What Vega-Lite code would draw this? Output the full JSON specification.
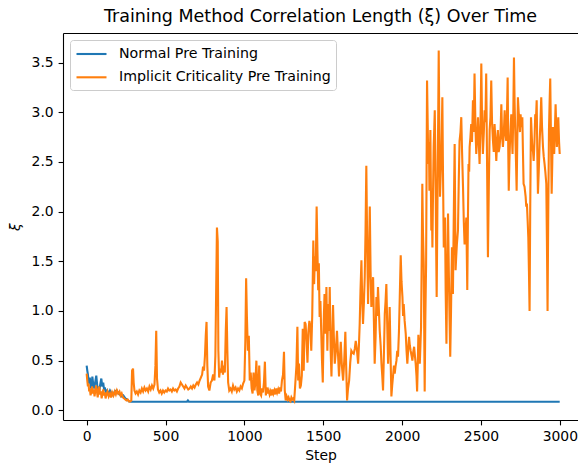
{
  "$schema": "https://vega.github.io/schema/vega-lite/v6.json",
  "autosize": {"type": "none"},
  "width": 515,
  "height": 387,
  "padding": {"left": 63, "top": 33, "right": 0, "bottom": 45},
  "background": "white",
  "title": {"text": "Training Method Correlation Length (ξ) Over Time", "font": "DejaVu Sans", "fontSize": 17.5, "fontWeight": "normal", "color": "black", "anchor": "middle", "offset": 8},
  "config": {
    "view": {"stroke": null},
    "axis": {"domainColor": "black", "domainWidth": 1.1, "tickColor": "black", "tickWidth": 1.1, "tickSize": 4.9, "labelPadding": 4.9, "labelFont": "DejaVu Sans", "labelFontSize": 13.9, "labelColor": "black", "titleFont": "DejaVu Sans", "titleFontSize": 13.9, "titleFontWeight": "normal", "titleColor": "black", "grid": false},
    "legend": {"orient": "top-left", "offset": 7, "padding": 5, "fillColor": "rgba(255,255,255,0.8)", "strokeColor": "#cccccc", "cornerRadius": 3, "symbolType": "M-1,0H3", "symbolSize": 225, "symbolStrokeWidth": 2.1, "symbolFillColor": "transparent", "labelFont": "DejaVu Sans", "labelFontSize": 14.2, "labelColor": "black", "labelOffset": 26, "labelLimit": 0, "rowPadding": 6.3}
  },
  "layer": [
    {
      "data": {"values": [
        {"step":0,"xi":0.45,"series":"Normal Pre Training"},{"step":4,"xi":0.40,"series":"Normal Pre Training"},{"step":8,"xi":0.36,"series":"Normal Pre Training"},{"step":12,"xi":0.30,"series":"Normal Pre Training"},{"step":16,"xi":0.27,"series":"Normal Pre Training"},{"step":20,"xi":0.33,"series":"Normal Pre Training"},{"step":25,"xi":0.24,"series":"Normal Pre Training"},{"step":30,"xi":0.22,"series":"Normal Pre Training"},{"step":36,"xi":0.34,"series":"Normal Pre Training"},{"step":42,"xi":0.26,"series":"Normal Pre Training"},{"step":48,"xi":0.22,"series":"Normal Pre Training"},{"step":54,"xi":0.28,"series":"Normal Pre Training"},{"step":61,"xi":0.35,"series":"Normal Pre Training"},{"step":67,"xi":0.25,"series":"Normal Pre Training"},{"step":73,"xi":0.22,"series":"Normal Pre Training"},{"step":80,"xi":0.20,"series":"Normal Pre Training"},{"step":86,"xi":0.26,"series":"Normal Pre Training"},{"step":93,"xi":0.32,"series":"Normal Pre Training"},{"step":99,"xi":0.24,"series":"Normal Pre Training"},{"step":105,"xi":0.28,"series":"Normal Pre Training"},{"step":111,"xi":0.20,"series":"Normal Pre Training"},{"step":115,"xi":0.23,"series":"Normal Pre Training"},{"step":122,"xi":0.18,"series":"Normal Pre Training"},{"step":130,"xi":0.20,"series":"Normal Pre Training"},{"step":138,"xi":0.16,"series":"Normal Pre Training"},{"step":148,"xi":0.20,"series":"Normal Pre Training"},{"step":158,"xi":0.17,"series":"Normal Pre Training"},{"step":168,"xi":0.15,"series":"Normal Pre Training"},{"step":178,"xi":0.19,"series":"Normal Pre Training"},{"step":190,"xi":0.20,"series":"Normal Pre Training"},{"step":200,"xi":0.17,"series":"Normal Pre Training"},{"step":210,"xi":0.16,"series":"Normal Pre Training"},{"step":220,"xi":0.14,"series":"Normal Pre Training"},{"step":232,"xi":0.15,"series":"Normal Pre Training"},{"step":245,"xi":0.12,"series":"Normal Pre Training"},{"step":255,"xi":0.11,"series":"Normal Pre Training"},{"step":262,"xi":0.10,"series":"Normal Pre Training"},{"step":270,"xi":0.09,"series":"Normal Pre Training"},{"step":283,"xi":0.087,"series":"Normal Pre Training"},{"step":400,"xi":0.087,"series":"Normal Pre Training"},{"step":636,"xi":0.087,"series":"Normal Pre Training"},{"step":642,"xi":0.10,"series":"Normal Pre Training"},{"step":648,"xi":0.087,"series":"Normal Pre Training"},{"step":1000,"xi":0.087,"series":"Normal Pre Training"},{"step":2000,"xi":0.087,"series":"Normal Pre Training"},{"step":2999,"xi":0.087,"series":"Normal Pre Training"}
      ]},
      "mark": {"type": "line", "strokeWidth": 2.1, "clip": true},
      "encoding": {
        "x": {"field": "step", "type": "quantitative", "scale": {"domain": [-150, 3115], "nice": false, "zero": false}, "axis": {"values": [0,500,1000,1500,2000,2500,3000], "format": "d", "title": "Step", "titlePadding": 5, "labelFlush": false, "labelOverlap": false}},
        "y": {"field": "xi", "type": "quantitative", "scale": {"domain": [-0.097, 3.797], "nice": false, "zero": false}, "axis": {"values": [0,0.5,1,1.5,2,2.5,3,3.5], "format": ".1f", "title": "ξ", "titleFontStyle": "italic", "titlePadding": 9, "labelFlush": false, "labelOverlap": false}},
        "color": {"field": "series", "type": "nominal", "scale": {"domain": ["Normal Pre Training", "Implicit Criticality Pre Training"], "range": ["#1f77b4", "#ff7f0e"]}, "legend": {"title": null}}
      }
    },
    {
      "data": {"values": [
        {"step":0,"xi":0.37},{"step":4,"xi":0.30},{"step":8,"xi":0.24},{"step":12,"xi":0.27},{"step":16,"xi":0.19},{"step":20,"xi":0.22},{"step":25,"xi":0.15},{"step":30,"xi":0.20},{"step":35,"xi":0.24},{"step":40,"xi":0.17},{"step":45,"xi":0.21},{"step":50,"xi":0.14},{"step":55,"xi":0.20},{"step":60,"xi":0.25},{"step":65,"xi":0.19},{"step":70,"xi":0.13},{"step":75,"xi":0.20},{"step":80,"xi":0.24},{"step":85,"xi":0.16},{"step":90,"xi":0.19},{"step":95,"xi":0.12},{"step":100,"xi":0.17},{"step":105,"xi":0.21},{"step":110,"xi":0.15},{"step":115,"xi":0.18},{"step":120,"xi":0.12},{"step":125,"xi":0.16},{"step":132,"xi":0.19},{"step":140,"xi":0.14},{"step":148,"xi":0.17},{"step":155,"xi":0.13},{"step":162,"xi":0.18},{"step":170,"xi":0.15},{"step":178,"xi":0.19},{"step":185,"xi":0.16},{"step":192,"xi":0.20},{"step":200,"xi":0.17},{"step":208,"xi":0.19},{"step":215,"xi":0.15},{"step":222,"xi":0.17},{"step":230,"xi":0.13},{"step":238,"xi":0.12},{"step":245,"xi":0.11},{"step":252,"xi":0.10},{"step":260,"xi":0.11},{"step":268,"xi":0.09},{"step":276,"xi":0.09},{"step":283,"xi":0.10},{"step":288,"xi":0.40},{"step":294,"xi":0.42},{"step":298,"xi":0.28},{"step":303,"xi":0.20},{"step":310,"xi":0.17},{"step":318,"xi":0.19},{"step":326,"xi":0.16},{"step":334,"xi":0.20},{"step":342,"xi":0.18},{"step":350,"xi":0.22},{"step":358,"xi":0.19},{"step":366,"xi":0.23},{"step":374,"xi":0.20},{"step":382,"xi":0.22},{"step":390,"xi":0.19},{"step":398,"xi":0.24},{"step":406,"xi":0.21},{"step":414,"xi":0.25},{"step":422,"xi":0.22},{"step":430,"xi":0.26},{"step":436,"xi":0.45},{"step":441,"xi":0.80},{"step":446,"xi":0.32},{"step":452,"xi":0.21},{"step":460,"xi":0.18},{"step":468,"xi":0.20},{"step":476,"xi":0.17},{"step":484,"xi":0.20},{"step":492,"xi":0.18},{"step":500,"xi":0.20},{"step":508,"xi":0.19},{"step":516,"xi":0.22},{"step":524,"xi":0.20},{"step":532,"xi":0.21},{"step":540,"xi":0.19},{"step":548,"xi":0.22},{"step":556,"xi":0.20},{"step":564,"xi":0.21},{"step":572,"xi":0.19},{"step":580,"xi":0.22},{"step":588,"xi":0.24},{"step":596,"xi":0.28},{"step":604,"xi":0.26},{"step":612,"xi":0.24},{"step":620,"xi":0.22},{"step":628,"xi":0.25},{"step":636,"xi":0.23},{"step":644,"xi":0.21},{"step":652,"xi":0.22},{"step":660,"xi":0.24},{"step":668,"xi":0.22},{"step":676,"xi":0.25},{"step":684,"xi":0.23},{"step":692,"xi":0.26},{"step":700,"xi":0.28},{"step":708,"xi":0.26},{"step":716,"xi":0.30},{"step":724,"xi":0.33},{"step":732,"xi":0.36},{"step":738,"xi":0.44},{"step":744,"xi":0.40},{"step":750,"xi":0.55},{"step":755,"xi":0.75},{"step":760,"xi":0.89},{"step":765,"xi":0.45},{"step":770,"xi":0.24},{"step":778,"xi":0.20},{"step":786,"xi":0.28},{"step":794,"xi":0.30},{"step":802,"xi":0.36},{"step":810,"xi":0.30},{"step":816,"xi":0.55},{"step":821,"xi":1.20},{"step":826,"xi":1.84},{"step":831,"xi":1.70},{"step":835,"xi":0.60},{"step":840,"xi":0.33},{"step":846,"xi":0.42},{"step":852,"xi":0.38},{"step":858,"xi":0.50},{"step":864,"xi":0.36},{"step":870,"xi":0.45},{"step":876,"xi":0.38},{"step":882,"xi":0.80},{"step":887,"xi":1.04},{"step":892,"xi":0.60},{"step":897,"xi":0.28},{"step":904,"xi":0.20},{"step":912,"xi":0.22},{"step":920,"xi":0.19},{"step":928,"xi":0.25},{"step":936,"xi":0.21},{"step":944,"xi":0.23},{"step":952,"xi":0.19},{"step":960,"xi":0.22},{"step":968,"xi":0.20},{"step":976,"xi":0.24},{"step":984,"xi":0.22},{"step":992,"xi":0.27},{"step":1000,"xi":0.30},{"step":1006,"xi":0.70},{"step":1011,"xi":1.33},{"step":1016,"xi":0.94},{"step":1022,"xi":0.60},{"step":1028,"xi":0.75},{"step":1034,"xi":0.30},{"step":1040,"xi":0.38},{"step":1046,"xi":0.22},{"step":1052,"xi":0.17},{"step":1058,"xi":0.38},{"step":1064,"xi":0.20},{"step":1070,"xi":0.28},{"step":1076,"xi":0.50},{"step":1082,"xi":0.20},{"step":1088,"xi":0.15},{"step":1094,"xi":0.45},{"step":1100,"xi":0.17},{"step":1106,"xi":0.15},{"step":1112,"xi":0.22},{"step":1118,"xi":0.18},{"step":1124,"xi":0.28},{"step":1130,"xi":0.49},{"step":1136,"xi":0.15},{"step":1142,"xi":0.23},{"step":1148,"xi":0.17},{"step":1154,"xi":0.20},{"step":1160,"xi":0.16},{"step":1166,"xi":0.19},{"step":1172,"xi":0.15},{"step":1178,"xi":0.21},{"step":1184,"xi":0.17},{"step":1190,"xi":0.20},{"step":1196,"xi":0.16},{"step":1202,"xi":0.22},{"step":1208,"xi":0.18},{"step":1214,"xi":0.21},{"step":1220,"xi":0.17},{"step":1226,"xi":0.23},{"step":1232,"xi":0.19},{"step":1238,"xi":0.30},{"step":1245,"xi":0.36},{"step":1251,"xi":0.59},{"step":1256,"xi":0.20},{"step":1262,"xi":0.10},{"step":1268,"xi":0.14},{"step":1274,"xi":0.11},{"step":1280,"xi":0.13},{"step":1286,"xi":0.10},{"step":1292,"xi":0.09},{"step":1298,"xi":0.13},{"step":1304,"xi":0.11},{"step":1310,"xi":0.12},{"step":1316,"xi":0.10},{"step":1322,"xi":0.25},{"step":1330,"xi":0.45},{"step":1336,"xi":0.84},{"step":1341,"xi":0.30},{"step":1346,"xi":0.47},{"step":1352,"xi":0.22},{"step":1358,"xi":0.25},{"step":1364,"xi":0.35},{"step":1370,"xi":0.82},{"step":1376,"xi":0.40},{"step":1382,"xi":0.89},{"step":1388,"xi":0.87},{"step":1394,"xi":0.70},{"step":1400,"xi":0.48},{"step":1406,"xi":0.80},{"step":1412,"xi":0.90},{"step":1418,"xi":0.85},{"step":1424,"xi":0.60},{"step":1430,"xi":0.95},{"step":1437,"xi":1.71},{"step":1442,"xi":1.27},{"step":1447,"xi":1.55},{"step":1452,"xi":1.40},{"step":1458,"xi":2.05},{"step":1463,"xi":1.61},{"step":1468,"xi":1.21},{"step":1472,"xi":1.48},{"step":1477,"xi":0.94},{"step":1482,"xi":1.10},{"step":1487,"xi":0.80},{"step":1492,"xi":0.50},{"step":1497,"xi":0.28},{"step":1503,"xi":0.90},{"step":1508,"xi":1.17},{"step":1514,"xi":0.77},{"step":1520,"xi":1.24},{"step":1526,"xi":0.60},{"step":1532,"xi":1.07},{"step":1537,"xi":0.80},{"step":1541,"xi":1.24},{"step":1547,"xi":0.60},{"step":1552,"xi":0.34},{"step":1557,"xi":0.70},{"step":1562,"xi":1.06},{"step":1567,"xi":0.75},{"step":1573,"xi":0.47},{"step":1580,"xi":0.60},{"step":1587,"xi":0.80},{"step":1594,"xi":0.55},{"step":1600,"xi":0.34},{"step":1606,"xi":0.55},{"step":1611,"xi":0.69},{"step":1618,"xi":0.45},{"step":1626,"xi":0.30},{"step":1633,"xi":0.50},{"step":1640,"xi":0.79},{"step":1646,"xi":0.40},{"step":1651,"xi":0.10},{"step":1657,"xi":0.22},{"step":1664,"xi":0.30},{"step":1671,"xi":0.48},{"step":1678,"xi":0.60},{"step":1685,"xi":0.58},{"step":1693,"xi":0.57},{"step":1700,"xi":0.62},{"step":1706,"xi":0.70},{"step":1714,"xi":0.60},{"step":1721,"xi":0.47},{"step":1726,"xi":0.65},{"step":1731,"xi":0.87},{"step":1736,"xi":1.20},{"step":1742,"xi":1.51},{"step":1747,"xi":1.10},{"step":1752,"xi":0.87},{"step":1758,"xi":1.10},{"step":1763,"xi":1.34},{"step":1768,"xi":1.80},{"step":1773,"xi":2.46},{"step":1779,"xi":1.60},{"step":1784,"xi":1.07},{"step":1790,"xi":1.55},{"step":1795,"xi":2.05},{"step":1800,"xi":1.40},{"step":1805,"xi":1.04},{"step":1810,"xi":1.20},{"step":1816,"xi":1.34},{"step":1821,"xi":0.90},{"step":1826,"xi":0.47},{"step":1832,"xi":0.75},{"step":1837,"xi":1.14},{"step":1842,"xi":0.95},{"step":1847,"xi":1.24},{"step":1853,"xi":1.00},{"step":1858,"xi":0.80},{"step":1864,"xi":0.65},{"step":1869,"xi":0.47},{"step":1874,"xi":0.35},{"step":1879,"xi":0.20},{"step":1885,"xi":0.60},{"step":1890,"xi":0.97},{"step":1895,"xi":1.10},{"step":1900,"xi":1.27},{"step":1905,"xi":0.90},{"step":1911,"xi":0.47},{"step":1916,"xi":0.70},{"step":1921,"xi":1.04},{"step":1926,"xi":0.60},{"step":1932,"xi":0.14},{"step":1937,"xi":0.25},{"step":1942,"xi":0.34},{"step":1948,"xi":0.45},{"step":1953,"xi":0.37},{"step":1958,"xi":0.44},{"step":1964,"xi":0.50},{"step":1969,"xi":0.60},{"step":1974,"xi":0.54},{"step":1980,"xi":0.80},{"step":1985,"xi":1.14},{"step":1991,"xi":1.56},{"step":1996,"xi":1.30},{"step":2002,"xi":1.14},{"step":2006,"xi":0.95},{"step":2010,"xi":1.07},{"step":2016,"xi":0.90},{"step":2023,"xi":0.77},{"step":2028,"xi":0.60},{"step":2033,"xi":0.47},{"step":2038,"xi":0.60},{"step":2044,"xi":0.74},{"step":2049,"xi":0.65},{"step":2054,"xi":0.60},{"step":2060,"xi":0.55},{"step":2065,"xi":0.50},{"step":2070,"xi":0.58},{"step":2076,"xi":0.64},{"step":2081,"xi":0.55},{"step":2086,"xi":0.47},{"step":2091,"xi":0.35},{"step":2095,"xi":0.19},{"step":2099,"xi":0.45},{"step":2103,"xi":0.76},{"step":2108,"xi":0.60},{"step":2112,"xi":0.47},{"step":2116,"xi":0.65},{"step":2120,"xi":0.84},{"step":2124,"xi":1.50},{"step":2128,"xi":2.28},{"step":2132,"xi":1.80},{"step":2137,"xi":1.47},{"step":2140,"xi":0.80},{"step":2143,"xi":0.19},{"step":2147,"xi":0.90},{"step":2152,"xi":1.47},{"step":2155,"xi":2.40},{"step":2158,"xi":3.32},{"step":2162,"xi":2.90},{"step":2166,"xi":2.48},{"step":2170,"xi":2.70},{"step":2173,"xi":2.21},{"step":2176,"xi":2.50},{"step":2179,"xi":2.82},{"step":2182,"xi":2.30},{"step":2185,"xi":1.81},{"step":2189,"xi":2.00},{"step":2192,"xi":1.64},{"step":2196,"xi":2.20},{"step":2200,"xi":2.65},{"step":2204,"xi":2.85},{"step":2207,"xi":3.02},{"step":2210,"xi":2.60},{"step":2213,"xi":2.15},{"step":2216,"xi":1.60},{"step":2219,"xi":1.14},{"step":2223,"xi":1.90},{"step":2226,"xi":2.48},{"step":2229,"xi":3.00},{"step":2232,"xi":3.62},{"step":2236,"xi":2.80},{"step":2240,"xi":2.15},{"step":2245,"xi":2.40},{"step":2249,"xi":2.55},{"step":2252,"xi":2.85},{"step":2255,"xi":3.15},{"step":2259,"xi":2.40},{"step":2264,"xi":1.64},{"step":2268,"xi":1.90},{"step":2272,"xi":1.94},{"step":2276,"xi":1.20},{"step":2281,"xi":0.67},{"step":2286,"xi":1.40},{"step":2291,"xi":1.98},{"step":2296,"xi":1.40},{"step":2301,"xi":0.90},{"step":2305,"xi":0.54},{"step":2310,"xi":1.00},{"step":2316,"xi":1.64},{"step":2322,"xi":1.17},{"step":2327,"xi":1.90},{"step":2333,"xi":2.68},{"step":2339,"xi":1.41},{"step":2343,"xi":1.55},{"step":2347,"xi":1.67},{"step":2351,"xi":1.75},{"step":2354,"xi":1.81},{"step":2359,"xi":2.30},{"step":2364,"xi":2.71},{"step":2370,"xi":2.80},{"step":2375,"xi":2.95},{"step":2380,"xi":2.60},{"step":2386,"xi":2.25},{"step":2391,"xi":1.90},{"step":2396,"xi":1.67},{"step":2402,"xi":1.80},{"step":2407,"xi":1.94},{"step":2413,"xi":1.21},{"step":2417,"xi":1.90},{"step":2421,"xi":2.48},{"step":2425,"xi":2.40},{"step":2428,"xi":2.65},{"step":2433,"xi":2.75},{"step":2438,"xi":2.88},{"step":2443,"xi":2.70},{"step":2449,"xi":3.12},{"step":2454,"xi":2.80},{"step":2459,"xi":3.39},{"step":2465,"xi":2.85},{"step":2470,"xi":2.58},{"step":2476,"xi":2.75},{"step":2481,"xi":2.95},{"step":2486,"xi":2.70},{"step":2491,"xi":2.48},{"step":2497,"xi":2.90},{"step":2502,"xi":3.49},{"step":2507,"xi":2.90},{"step":2512,"xi":2.58},{"step":2518,"xi":2.80},{"step":2523,"xi":3.02},{"step":2528,"xi":2.90},{"step":2533,"xi":3.39},{"step":2539,"xi":2.40},{"step":2544,"xi":1.54},{"step":2550,"xi":2.30},{"step":2555,"xi":2.82},{"step":2560,"xi":2.95},{"step":2565,"xi":3.32},{"step":2570,"xi":2.90},{"step":2576,"xi":2.71},{"step":2581,"xi":2.60},{"step":2586,"xi":2.88},{"step":2592,"xi":2.70},{"step":2597,"xi":2.51},{"step":2602,"xi":2.70},{"step":2607,"xi":2.82},{"step":2612,"xi":2.60},{"step":2618,"xi":2.65},{"step":2624,"xi":2.80},{"step":2629,"xi":3.08},{"step":2634,"xi":2.75},{"step":2639,"xi":2.65},{"step":2645,"xi":2.80},{"step":2650,"xi":3.02},{"step":2655,"xi":2.80},{"step":2660,"xi":2.71},{"step":2665,"xi":3.00},{"step":2669,"xi":3.35},{"step":2673,"xi":2.60},{"step":2676,"xi":2.21},{"step":2680,"xi":2.50},{"step":2684,"xi":2.71},{"step":2688,"xi":2.85},{"step":2692,"xi":2.98},{"step":2696,"xi":2.75},{"step":2700,"xi":2.58},{"step":2705,"xi":3.00},{"step":2709,"xi":3.55},{"step":2713,"xi":3.10},{"step":2717,"xi":2.82},{"step":2722,"xi":2.50},{"step":2726,"xi":2.21},{"step":2730,"xi":2.70},{"step":2734,"xi":3.15},{"step":2739,"xi":3.00},{"step":2743,"xi":2.92},{"step":2747,"xi":2.80},{"step":2751,"xi":2.98},{"step":2756,"xi":2.85},{"step":2762,"xi":2.95},{"step":2766,"xi":2.60},{"step":2770,"xi":2.28},{"step":2776,"xi":2.25},{"step":2783,"xi":2.15},{"step":2787,"xi":2.05},{"step":2791,"xi":2.08},{"step":2796,"xi":1.90},{"step":2800,"xi":1.74},{"step":2804,"xi":1.40},{"step":2808,"xi":1.00},{"step":2812,"xi":2.00},{"step":2817,"xi":2.95},{"step":2821,"xi":2.80},{"step":2825,"xi":2.65},{"step":2830,"xi":2.60},{"step":2834,"xi":2.51},{"step":2839,"xi":2.70},{"step":2844,"xi":2.98},{"step":2848,"xi":2.90},{"step":2853,"xi":3.12},{"step":2857,"xi":2.60},{"step":2861,"xi":2.18},{"step":2866,"xi":2.40},{"step":2872,"xi":2.71},{"step":2877,"xi":2.90},{"step":2882,"xi":3.15},{"step":2887,"xi":2.85},{"step":2893,"xi":2.65},{"step":2898,"xi":2.55},{"step":2903,"xi":2.48},{"step":2908,"xi":2.40},{"step":2914,"xi":2.28},{"step":2918,"xi":1.70},{"step":2922,"xi":1.00},{"step":2926,"xi":1.90},{"step":2931,"xi":2.82},{"step":2935,"xi":3.10},{"step":2939,"xi":3.34},{"step":2944,"xi":2.70},{"step":2948,"xi":2.18},{"step":2952,"xi":2.50},{"step":2956,"xi":2.85},{"step":2960,"xi":2.70},{"step":2964,"xi":2.58},{"step":2969,"xi":2.85},{"step":2973,"xi":3.08},{"step":2977,"xi":2.85},{"step":2981,"xi":2.65},{"step":2986,"xi":2.80},{"step":2990,"xi":2.95},{"step":2995,"xi":2.70},{"step":2999,"xi":2.58}
      ]},
      "transform": [{"calculate": "'Implicit Criticality Pre Training'", "as": "series"}],
      "mark": {"type": "line", "strokeWidth": 2.1, "clip": true},
      "encoding": {
        "x": {"field": "step", "type": "quantitative", "scale": {"domain": [-150, 3115], "nice": false, "zero": false}, "axis": {"orient": "top", "labels": false, "ticks": false, "title": null, "domain": true}},
        "y": {"field": "xi", "type": "quantitative"},
        "color": {"field": "series", "type": "nominal", "legend": {"title": null}}
      }
    }
  ],
  "resolve": {"axis": {"x": "independent"}}
}
